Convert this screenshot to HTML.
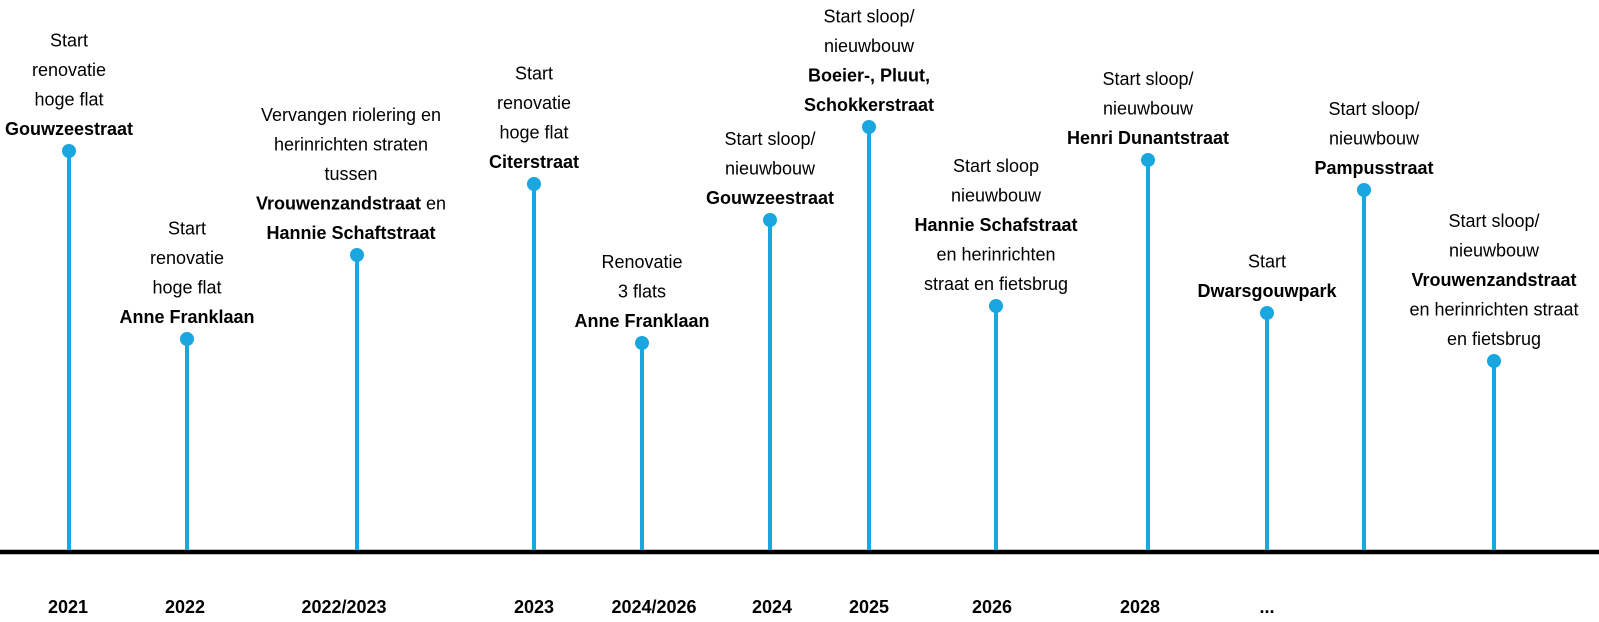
<!DOCTYPE html>
<html><head><meta charset="utf-8"><style>
html,body{margin:0;padding:0;background:#fff;}
svg{display:block;font-family:"Liberation Sans",sans-serif;}
</style></head><body>
<svg id="chart" width="1599" height="622" viewBox="0 0 1599 622" xmlns="http://www.w3.org/2000/svg">
<line x1="0" y1="552" x2="1599" y2="552" stroke="#000" stroke-width="4.5"/>
<g id="marks"></g>
</svg>
<script>
const categories = ["2021","2022","2022/2023","2023","2024/2026","2024","2025","2026","2028","...","",""];
const stemX = [69,187,357,534,642,770,869,996,1148,1267,1364,1494];
const dotHeights = [401,213,297,368,209,332,425,246,392,239,362,191];
const labelX = [68,185,344,534,654,772,869,992,1140,1267,null,null];
const texts = [
 [["Start"],["renovatie"],["hoge flat"],["*Gouwzeestraat"]],
 [["Start"],["renovatie"],["hoge flat"],["*Anne Franklaan"]],
 [["Vervangen riolering en"],["herinrichten straten"],["tussen"],["*Vrouwenzandstraat"," en"],["*Hannie Schaftstraat"]],
 [["Start"],["renovatie"],["hoge flat"],["*Citerstraat"]],
 [["Renovatie"],["3 flats"],["*Anne Franklaan"]],
 [["Start sloop/"],["nieuwbouw"],["*Gouwzeestraat"]],
 [["Start sloop/"],["nieuwbouw"],["*Boeier-, Pluut,"],["*Schokkerstraat"]],
 [["Start sloop"],["nieuwbouw"],["*Hannie Schafstraat"],["en herinrichten"],["straat en fietsbrug"]],
 [["Start sloop/"],["nieuwbouw"],["*Henri Dunantstraat"]],
 [["Start"],["*Dwarsgouwpark"]],
 [["Start sloop/"],["nieuwbouw"],["*Pampusstraat"]],
 [["Start sloop/"],["nieuwbouw"],["*Vrouwenzandstraat"],["en herinrichten straat"],["en fietsbrug"]]
];
const textOffset = [0,0,-6,0,0,0,0,0,0,0,10,0];
const NS="http://www.w3.org/2000/svg";
const axisY=552;
function yPos(h){return axisY-h;}
const g=document.getElementById('marks');
categories.forEach((c,i)=>{
  const x=stemX[i], y=yPos(dotHeights[i]);
  const ln=document.createElementNS(NS,'line');
  
  
  ln.setAttribute('x1',x);ln.setAttribute('x2',x);ln.setAttribute('y1',y);ln.setAttribute('y2',axisY-2);
  ln.setAttribute('stroke','#1aa7e0');ln.setAttribute('stroke-width','4');
  g.appendChild(ln);
  const dot=document.createElementNS(NS,'circle');
  
  
  dot.setAttribute('cx',x);dot.setAttribute('cy',y);dot.setAttribute('r','7');dot.setAttribute('fill','#1aa7e0');
  g.appendChild(dot);
  const lines=texts[i];
  const n=lines.length;
  const t=document.createElementNS(NS,'text');
  
  
  t.setAttribute('text-anchor','middle');t.setAttribute('font-size','18');t.setAttribute('fill','#000');
  lines.forEach((parts,k)=>{
    const ty=y-16-(n-1-k)*29.5;
    const line=document.createElementNS(NS,'tspan');
    line.setAttribute('x',x+textOffset[i]);line.setAttribute('y',ty);
    parts.forEach(p=>{
      const sp=document.createElementNS(NS,'tspan');
      if(p[0]==='*'){sp.setAttribute('font-weight','bold');sp.textContent=p.slice(1);}else sp.textContent=p;
      line.appendChild(sp);
    });
    t.appendChild(line);
  });
  g.appendChild(t);
  if(c){
    const yl=document.createElementNS(NS,'text');
    
    
    yl.setAttribute('x',labelX[i]);yl.setAttribute('y',613);
    yl.setAttribute('text-anchor','middle');yl.setAttribute('font-size','18');yl.setAttribute('font-weight','bold');
    yl.textContent=c;
    g.appendChild(yl);
  }
});
</script>
</body></html>
